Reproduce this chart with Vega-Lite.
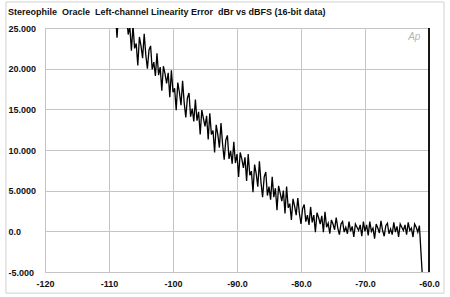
{
  "$schema": "https://vega.github.io/schema/vega-lite/v6.json",
  "width": 384,
  "height": 244,
  "autosize": {"type": "none"},
  "padding": {"left": 45, "top": 28, "right": 21, "bottom": 25},
  "background": "white",
  "config": {
    "font": "Liberation Sans",
    "view": {"stroke": "#c4c4c4", "strokeWidth": 1}
  },
  "title": {
    "text": "Stereophile\u00a0 Oracle\u00a0 Left-channel Linearity Error\u00a0 dBr vs dBFS (16-bit data)",
    "anchor": "start",
    "orient": "top",
    "frame": "group",
    "dx": -37,
    "offset": -16,
    "fontSize": 9,
    "fontWeight": "bold",
    "color": "#111",
    "font": "Liberation Sans"
  },
  "datasets": {
    "curve": [
      {"x": -112.0, "y": 29.5}, {"x": -111.75, "y": 28.0}, {"x": -111.5, "y": 30.0}, {"x": -111.25, "y": 28.5},
      {"x": -111.0, "y": 29.0}, {"x": -110.75, "y": 27.5}, {"x": -110.5, "y": 28.8}, {"x": -110.25, "y": 27.2},
      {"x": -110.0, "y": 28.0}, {"x": -109.75, "y": 26.5}, {"x": -109.5, "y": 27.8}, {"x": -109.25, "y": 26.2},
      {"x": -109.0, "y": 27.0}, {"x": -108.75, "y": 23.8}, {"x": -108.5, "y": 26.8}, {"x": -108.25, "y": 27.5},
      {"x": -108.0, "y": 26.0}, {"x": -107.75, "y": 27.2}, {"x": -107.5, "y": 25.8}, {"x": -107.25, "y": 26.5},
      {"x": -107.0, "y": 24.2}, {"x": -106.75, "y": 25.2}, {"x": -106.5, "y": 22.2}, {"x": -106.25, "y": 25.3},
      {"x": -106.0, "y": 22.5}, {"x": -105.75, "y": 23.1}, {"x": -105.5, "y": 20.4}, {"x": -105.25, "y": 23.9},
      {"x": -105.0, "y": 22.8}, {"x": -104.75, "y": 21.3}, {"x": -104.5, "y": 24.3}, {"x": -104.25, "y": 21.7},
      {"x": -104.0, "y": 20.0}, {"x": -103.75, "y": 22.3}, {"x": -103.5, "y": 22.8}, {"x": -103.25, "y": 19.9},
      {"x": -103.0, "y": 20.8}, {"x": -102.75, "y": 19.1}, {"x": -102.5, "y": 21.9}, {"x": -102.25, "y": 19.2},
      {"x": -102.0, "y": 20.2}, {"x": -101.75, "y": 17.3}, {"x": -101.5, "y": 20.3}, {"x": -101.25, "y": 19.4},
      {"x": -101.0, "y": 18.2}, {"x": -100.75, "y": 19.5}, {"x": -100.5, "y": 16.5}, {"x": -100.25, "y": 19.8},
      {"x": -100.0, "y": 17.1}, {"x": -99.75, "y": 17.6}, {"x": -99.5, "y": 14.9}, {"x": -99.25, "y": 18.3},
      {"x": -99.0, "y": 17.1}, {"x": -98.75, "y": 15.5}, {"x": -98.5, "y": 18.5}, {"x": -98.25, "y": 15.8},
      {"x": -98.0, "y": 14.0}, {"x": -97.75, "y": 16.4}, {"x": -97.5, "y": 17.0}, {"x": -97.25, "y": 14.1},
      {"x": -97.0, "y": 15.1}, {"x": -96.75, "y": 13.5}, {"x": -96.5, "y": 16.2}, {"x": -96.25, "y": 13.6},
      {"x": -96.0, "y": 14.7}, {"x": -95.75, "y": 11.9}, {"x": -95.5, "y": 14.9}, {"x": -95.25, "y": 13.9},
      {"x": -95.0, "y": 12.9}, {"x": -94.75, "y": 14.2}, {"x": -94.5, "y": 11.3}, {"x": -94.25, "y": 14.5},
      {"x": -94.0, "y": 11.9}, {"x": -93.75, "y": 12.4}, {"x": -93.5, "y": 9.7}, {"x": -93.25, "y": 13.1},
      {"x": -93.0, "y": 11.9}, {"x": -92.75, "y": 10.3}, {"x": -92.5, "y": 13.3}, {"x": -92.25, "y": 10.7},
      {"x": -92.0, "y": 8.8}, {"x": -91.75, "y": 11.2}, {"x": -91.5, "y": 11.8}, {"x": -91.25, "y": 8.9},
      {"x": -91.0, "y": 9.9}, {"x": -90.75, "y": 8.3}, {"x": -90.5, "y": 11.0}, {"x": -90.25, "y": 8.4},
      {"x": -90.0, "y": 9.5}, {"x": -89.75, "y": 6.7}, {"x": -89.5, "y": 9.7}, {"x": -89.25, "y": 8.9},
      {"x": -89.0, "y": 7.8}, {"x": -88.75, "y": 9.1}, {"x": -88.5, "y": 6.2}, {"x": -88.25, "y": 9.5},
      {"x": -88.0, "y": 6.9}, {"x": -87.75, "y": 7.4}, {"x": -87.5, "y": 4.8}, {"x": -87.25, "y": 8.2},
      {"x": -87.0, "y": 7.1}, {"x": -86.75, "y": 5.5}, {"x": -86.5, "y": 8.6}, {"x": -86.25, "y": 6.0},
      {"x": -86.0, "y": 4.2}, {"x": -85.75, "y": 6.7}, {"x": -85.5, "y": 7.3}, {"x": -85.25, "y": 4.4},
      {"x": -85.0, "y": 5.5}, {"x": -84.75, "y": 3.9}, {"x": -84.5, "y": 6.7}, {"x": -84.25, "y": 4.2},
      {"x": -84.0, "y": 5.3}, {"x": -83.75, "y": 2.6}, {"x": -83.5, "y": 5.6}, {"x": -83.25, "y": 4.7},
      {"x": -83.0, "y": 3.7}, {"x": -82.75, "y": 5.0}, {"x": -82.5, "y": 2.2}, {"x": -82.25, "y": 5.5},
      {"x": -82.0, "y": 2.9}, {"x": -81.75, "y": 3.4}, {"x": -81.5, "y": 1.4}, {"x": -81.25, "y": 4.0},
      {"x": -81.0, "y": 3.1}, {"x": -80.75, "y": 2.0}, {"x": -80.5, "y": 4.1}, {"x": -80.25, "y": 2.2},
      {"x": -80.0, "y": 0.9}, {"x": -79.75, "y": 2.8}, {"x": -79.5, "y": 3.3}, {"x": -79.25, "y": 1.2},
      {"x": -79.0, "y": 2.0}, {"x": -78.75, "y": 0.8}, {"x": -78.5, "y": 3.0}, {"x": -78.25, "y": 1.1},
      {"x": -78.0, "y": 2.0}, {"x": -77.75, "y": -0.1}, {"x": -77.5, "y": 2.3}, {"x": -77.25, "y": 1.7},
      {"x": -77.0, "y": 0.9}, {"x": -76.75, "y": 1.9}, {"x": -76.5, "y": -0.1}, {"x": -76.25, "y": 2.4},
      {"x": -76.0, "y": 0.5}, {"x": -75.75, "y": 1.0}, {"x": -75.5, "y": -0.3}, {"x": -75.25, "y": 1.4},
      {"x": -75.0, "y": 0.9}, {"x": -74.75, "y": 0.2}, {"x": -74.5, "y": 1.7}, {"x": -74.25, "y": 0.4},
      {"x": -74.0, "y": -0.4}, {"x": -73.75, "y": 0.9}, {"x": -73.5, "y": 1.2}, {"x": -73.25, "y": -0.1},
      {"x": -73.0, "y": 0.5}, {"x": -72.75, "y": -0.3}, {"x": -72.5, "y": 1.2}, {"x": -72.25, "y": 0.0},
      {"x": -72.0, "y": 0.6}, {"x": -71.75, "y": -0.7}, {"x": -71.5, "y": 0.9}, {"x": -71.25, "y": 0.5},
      {"x": -71.0, "y": 0.1}, {"x": -70.75, "y": 0.8}, {"x": -70.5, "y": -0.6}, {"x": -70.25, "y": 1.2},
      {"x": -70.0, "y": 0.0}, {"x": -69.75, "y": 0.8}, {"x": -69.5, "y": -0.5}, {"x": -69.25, "y": 1.2},
      {"x": -69.0, "y": 0.0}, {"x": -68.75, "y": 0.4}, {"x": -68.5, "y": -0.9}, {"x": -68.25, "y": 0.9},
      {"x": -68.0, "y": 0.4}, {"x": -67.75, "y": -0.2}, {"x": -67.5, "y": 1.3}, {"x": -67.25, "y": 0.1},
      {"x": -67.0, "y": -0.6}, {"x": -66.75, "y": 0.7}, {"x": -66.5, "y": 1.0}, {"x": -66.25, "y": -0.3},
      {"x": -66.0, "y": 0.3}, {"x": -65.75, "y": -0.4}, {"x": -65.5, "y": 1.1}, {"x": -65.25, "y": -0.1},
      {"x": -65.0, "y": 0.6}, {"x": -64.75, "y": -0.7}, {"x": -64.5, "y": 0.9}, {"x": -64.25, "y": 0.5},
      {"x": -64.0, "y": 0.1}, {"x": -63.75, "y": 0.8}, {"x": -63.5, "y": -0.4}, {"x": -63.25, "y": 1.1},
      {"x": -63.0, "y": 0.1}, {"x": -62.75, "y": 0.4}, {"x": -62.5, "y": -0.7}, {"x": -62.25, "y": 0.9},
      {"x": -62.0, "y": 0.5}, {"x": -61.75, "y": -0.1}, {"x": -61.5, "y": 0.7}, {"x": -61.0, "y": -6.0}
    ]
  },
  "layer": [
    {
      "data": {"name": "curve"},
      "mark": {"type": "line", "color": "#000000", "strokeWidth": 1.3, "clip": true},
      "encoding": {
        "x": {
          "field": "x", "type": "quantitative",
          "scale": {"domain": [-120, -60], "nice": false, "zero": false},
          "axis": {
            "title": null,
            "values": [-120, -110, -100, -90, -80, -70, -60],
            "labelExpr": "datum.value == -120 ? '-120' : datum.value == -110 ? '-110' : datum.value == -100 ? '-100' : datum.value == -90 ? '-90.0' : datum.value == -80 ? '-80.0' : datum.value == -70 ? '-70.0' : '-60.0'",
            "ticks": false, "domain": false,
            "grid": true, "gridColor": "#c4c4c4", "gridWidth": 1,
            "labelFont": "Liberation Sans", "labelFontSize": 9, "labelFontWeight": "bold",
            "labelColor": "#111", "labelPadding": 7, "labelFlush": false, "labelOverlap": false
          }
        },
        "y": {
          "field": "y", "type": "quantitative",
          "scale": {"domain": [-5, 25], "nice": false, "zero": false},
          "axis": {
            "title": null,
            "values": [-5, 0, 5, 10, 15, 20, 25],
            "labelExpr": "datum.value == 25 ? '25.000' : datum.value == 20 ? '20.000' : datum.value == 15 ? '15.000' : datum.value == 10 ? '10.000' : datum.value == 5 ? '5.0000' : datum.value == 0 ? '0.0' : '-5.000'",
            "ticks": false, "domain": false,
            "grid": true, "gridColor": "#c4c4c4", "gridWidth": 1,
            "labelFont": "Liberation Sans", "labelFontSize": 9, "labelFontWeight": "bold",
            "labelColor": "#111", "labelAlign": "left", "labelPadding": 37,
            "labelBaseline": "middle", "labelFlush": false, "labelOverlap": false
          }
        }
      }
    },
    {
      "data": {"values": [{}]},
      "mark": {"type": "rule", "color": "#000000", "strokeWidth": 1.8},
      "encoding": {"x": {"datum": -60, "type": "quantitative"}}
    },
    {
      "data": {"values": [{}]},
      "mark": {"type": "text", "text": "Ap", "font": "Liberation Sans", "fontStyle": "italic", "fontSize": 10, "color": "#b4b4b4"},
      "encoding": {
        "x": {"datum": -62.3, "type": "quantitative"},
        "y": {"datum": 23.9, "type": "quantitative"}
      }
    },
    {
      "data": {"values": [{}]},
      "mark": {"type": "rect", "fill": null, "fillOpacity": 0, "stroke": "#d0d0d0", "strokeWidth": 1, "clip": false},
      "encoding": {
        "x": {"datum": -126.1, "type": "quantitative"},
        "x2": {"datum": -57.66},
        "y": {"datum": 28.2, "type": "quantitative"},
        "y2": {"datum": -7.6}
      }
    }
  ]
}
